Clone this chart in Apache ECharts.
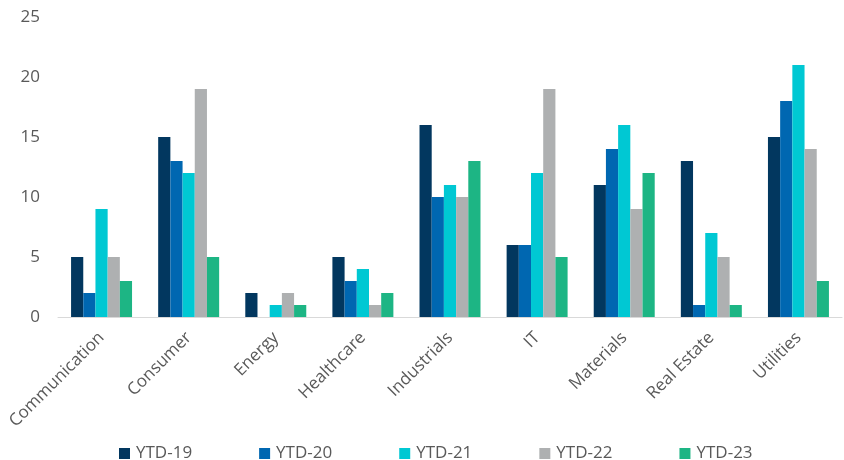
<!DOCTYPE html>
<html>
<head>
<meta charset="utf-8">
<script src="https://cdn.jsdelivr.net/npm/echarts@6/dist/echarts.min.js"></script>
<style>
  html, body { margin: 0; padding: 0; background: #ffffff; }
  #chart { width: 844px; height: 460px; }
</style>
</head>
<body>
<div id="chart"></div>
<script>
// Sector counts by year-to-date period
const categories = ['Communication', 'Consumer', 'Energy', 'Healthcare', 'Industrials', 'IT', 'Materials', 'Real Estate', 'Utilities'];
const seriesNames = ['YTD-19', 'YTD-20', 'YTD-21', 'YTD-22', 'YTD-23'];
const ytd19 = [5, 15, 2, 5, 16, 6, 11, 13, 15];
const ytd20 = [2, 13, 0, 3, 10, 6, 14, 1, 18];
const ytd21 = [9, 12, 1, 4, 11, 12, 16, 7, 21];
const ytd22 = [5, 19, 2, 1, 10, 19, 9, 5, 14];
const ytd23 = [3, 5, 1, 2, 13, 5, 12, 1, 3];
const yTicks = [0, 5, 10, 15, 20, 25];

const values = [ytd19, ytd20, ytd21, ytd22, ytd23];
const colors = ['#02375F', '#0067B1', '#00C8D3', '#AEB0B1', '#1DB584'];
const font = '"Open Sans", sans-serif';

const chart = echarts.init(document.getElementById('chart'), null, { renderer: 'canvas' });
chart.setOption({
  animation: false,
  color: colors,
  grid: { left: 58, right: 2, top: 17, bottom: 143, containLabel: false },
  legend: {
    top: 440,
    left: 114,
    itemWidth: 11,
    itemHeight: 11,
    itemGap: 67,
    icon: 'rect',
    textStyle: { color: '#595959', fontSize: 17, fontFamily: font, padding: [0, 0, 0, 1] },
    data: seriesNames
  },
  xAxis: {
    type: 'category',
    data: categories,
    axisLine: { lineStyle: { color: '#D9D9D9', width: 1 } },
    axisTick: { show: false },
    axisLabel: {
      rotate: 45,
      interval: 0,
      margin: 18,
      color: '#595959',
      fontSize: 17,
      fontFamily: font
    }
  },
  yAxis: {
    type: 'value',
    min: yTicks[0],
    max: yTicks[yTicks.length - 1],
    interval: 5,
    splitLine: { show: false },
    axisLine: { show: false },
    axisTick: { show: false },
    axisLabel: { color: '#595959', fontSize: 17, fontFamily: font, margin: 18 }
  },
  series: seriesNames.map((name, i) => ({
    name: name,
    type: 'bar',
    data: values[i],
    barGap: '0%',
    barCategoryGap: '30%',
    itemStyle: { color: colors[i] }
  }))
});
</script>
</body>
</html>
